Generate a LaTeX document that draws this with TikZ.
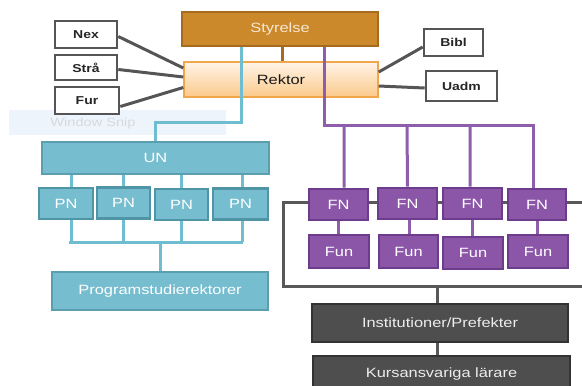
\documentclass[tikz,border=0pt]{standalone}
\usepackage{fontspec}
\setmainfont{Liberation Sans}[FakeStretch=1.22]
\usetikzlibrary{calc}
\definecolor{styfill}{HTML}{CC892C}
\definecolor{styline}{HTML}{A66B1F}
\definecolor{stytext}{HTML}{F6E8D2}
\definecolor{rekline}{HTML}{F2A64C}
\definecolor{rektop}{HTML}{FFF4E8}
\definecolor{rekbot}{HTML}{FBC98A}
\definecolor{tealfill}{HTML}{75BDCF}
\definecolor{tealline}{HTML}{5A9EB0}
\definecolor{pnline}{HTML}{4F95A6}
\definecolor{blueline}{HTML}{6EBDD1}
\definecolor{purfill}{HTML}{8B55A8}
\definecolor{purline}{HTML}{6E3C8C}
\definecolor{purconn}{HTML}{8E5EAC}
\definecolor{grayconn}{HTML}{585858}
\definecolor{instfill}{HTML}{4E4E4E}
\definecolor{instline}{HTML}{333333}
\definecolor{insttext}{HTML}{EDEDED}
\definecolor{smallline}{HTML}{555555}
\definecolor{snipfill}{HTML}{EEF4FB}
\definecolor{sniptext}{HTML}{D5DAE0}
\begin{document}
\begin{tikzpicture}[x=1bp,y=-1bp,
  wh/.style 2 args={minimum width=#1bp, minimum height=#2bp},
  box/.style={draw, line width=2.4bp, inner sep=0pt, align=center, font=\fontsize{13.5}{16}\selectfont},
  smallbox/.style={box, fill=white, draw=smallline, line width=2.6bp, text=black!85, font=\bfseries\fontsize{11.5}{13}\selectfont},
  stybox/.style={box, fill=styfill, draw=styline, text=stytext},
  rekbox/.style={box, top color=rektop, bottom color=rekbot, draw=rekline, line width=1.4bp, text=black!90},
  tealbox/.style={box, fill=tealfill, draw=tealline, text=white},
  pnbox/.style={box, fill=tealfill, draw=pnline, line width=2.6bp, text=white},
  purbox/.style={box, fill=purfill, draw=purline, line width=2.6bp, text=white},
  instbox/.style={box, fill=instfill, draw=instline, text=insttext},
  gconn/.style={draw=smallline, line width=3bp},
  bconn/.style={draw=blueline, line width=3bp},
  pconn/.style={draw=purconn, line width=3bp},
  oconn/.style={draw=styline, line width=3bp},
  dconn/.style={draw=grayconn, line width=3bp},
]
\useasboundingbox (0,0) rectangle (582,385);
\clip (0,0) rectangle (582,385);

% window snip artefact
\node[fill=snipfill, inner sep=0pt, wh={217}{25}] (snip) at (117.5,122.5) {};
\node[text=sniptext, font=\fontsize{12}{14}\selectfont, inner sep=0pt] (sniptxt) at (93,123) {Window Snip};

% Rektor
\node[rekbox, wh={194}{35}] (Rektor) at (281,79.5) {Rektor};

% gray trunk behind FN
\coordinate (g0) at (283,202);
\coordinate (g1) at (283,286);
\coordinate (g2) at (585,286);
\coordinate (g3) at (585,202);
\draw[dconn] (g3) -- (g0) -- (g1) -- (g2);

% side boxes
\node[smallbox, wh={62}{27}] (Nex) at (86,34.5) {Nex};
\node[smallbox, wh={62}{25}] (Stra) at (86,67.5) {Strå};
\node[smallbox, wh={64}{27}] (Fur) at (87,100.5) {Fur};
\node[smallbox, wh={59}{27}] (Bibl) at (453.5,42.5) {Bibl};
\node[smallbox, wh={71}{30}] (Uadm) at (461.5,86) {Uadm};

\draw[gconn] ([yshift=-2bp]Nex.east) -- ([yshift=11.5bp]Rektor.west);
\draw[gconn] ([yshift=-2bp]Stra.east) -- ([yshift=2.5bp]Rektor.west);
\draw[gconn] ([yshift=-6bp]Fur.east) -- ([yshift=-8bp]Rektor.west);
\draw[gconn] ([yshift=7.5bp]Rektor.east) -- ([yshift=-4.5bp]Bibl.west);
\draw[gconn] ([yshift=-6.5bp]Rektor.east) -- ([yshift=-2bp]Uadm.west);

% Styrelse
\node[stybox, wh={196}{34}] (Styrelse) at (280,29) {Styrelse};
\draw[oconn] (Styrelse.south -| 282,0) -- (Rektor.north -| 282,0);

% UN branch
\node[tealbox, wh={227}{32}] (UN) at (155.5,158) {UN};
\node[pnbox, wh={54}{31}] (PN1) at (66,203.5) {PN};
\node[pnbox, wh={53}{31}] (PN2) at (123.5,203) {PN};
\node[pnbox, wh={53}{31}] (PN3) at (181.5,204.5) {PN};
\node[pnbox, wh={55}{31}] (PN4) at (240.5,204) {PN};
\node[tealbox, wh={216}{38}] (PSR) at (160,291) {Programstudierektorer};

\coordinate (b1) at (241,122);
\coordinate (b2) at (155.5,122);
\draw[bconn] (Styrelse.south -| b1) -- (b1) -- (b2) -- (UN.north);

\draw[bconn] ([xshift=5bp]PN1.north) -- ([xshift=5bp]PN1.north |- UN.south);
\draw[bconn] (PN2.north) -- (PN2.north |- UN.south);
\draw[bconn] (PN3.north) -- (PN3.north |- UN.south);
\draw[bconn] ([xshift=1.5bp]PN4.north) -- ([xshift=1.5bp]PN4.north |- UN.south);

\coordinate (pb) at (160,242);
\coordinate (pbl) at (69,242);
\coordinate (pbr) at (243,242);
\draw[bconn] ([xshift=5bp]PN1.south) -- ([xshift=5bp]PN1.south |- pb);
\draw[bconn] (PN2.south) -- (PN2.south |- pb);
\draw[bconn] (PN3.south) -- (PN3.south |- pb);
\draw[bconn] ([xshift=1.5bp]PN4.south) -- ([xshift=1.5bp]PN4.south |- pb);
\draw[bconn] (pbl) -- (pbr);
\draw[bconn] (pb) -- (PSR.north);

% FN branch
\node[purbox, wh={59}{31}] (FN1) at (338.5,204.5) {FN};
\node[purbox, wh={59}{31}] (FN2) at (407.5,203.5) {FN};
\node[purbox, wh={59}{31}] (FN3) at (472.5,203.5) {FN};
\node[purbox, wh={58}{31}] (FN4) at (537,204.5) {FN};
\node[purbox, wh={60}{33}] (Fun1) at (339,251.5) {Fun};
\node[purbox, wh={59}{33}] (Fun2) at (408.5,251.5) {Fun};
\node[purbox, wh={60}{32}] (Fun3) at (473,253) {Fun};
\node[purbox, wh={60}{33}] (Fun4) at (538,251.5) {Fun};

\coordinate (p1) at (324,125);
\coordinate (p4) at (533,125);
\draw[pconn] (Styrelse.south -| p1) -- (p1) -- (p4) -- (p4 |- FN4.north);
\draw[pconn] (p1 -| 344,0) -- ([xshift=5.5bp]FN1.north);
\draw[pconn] (p1 -| 407,0) -- (FN2.north);
\draw[pconn] (p1 -| 470,0) -- ([xshift=-2.5bp]FN3.north);

\draw[pconn] (FN1.south) -- (Fun1.north -| FN1.south);
\draw[pconn] ([xshift=1.5bp]FN2.south) -- ([xshift=1.5bp]FN2.south |- Fun2.north);
\draw[pconn] (FN3.south) -- (FN3.south |- Fun3.north);
\draw[pconn] (FN4.south) -- (FN4.south |- Fun4.north);

% Institutioner
\node[instbox, wh={256}{38}] (Inst) at (440,323) {Institutioner/Prefekter};
\node[instbox, wh={257}{36}] (Kurs) at (441.5,374) {Kursansvariga lärare};
\draw[dconn] ([xshift=-3bp]Inst.north) -- ([xshift=-3bp]Inst.north |- g1);
\draw[dconn] ([xshift=-3bp]Inst.south) -- ([xshift=-3bp]Inst.south |- Kurs.north);
\end{tikzpicture}
\end{document}
